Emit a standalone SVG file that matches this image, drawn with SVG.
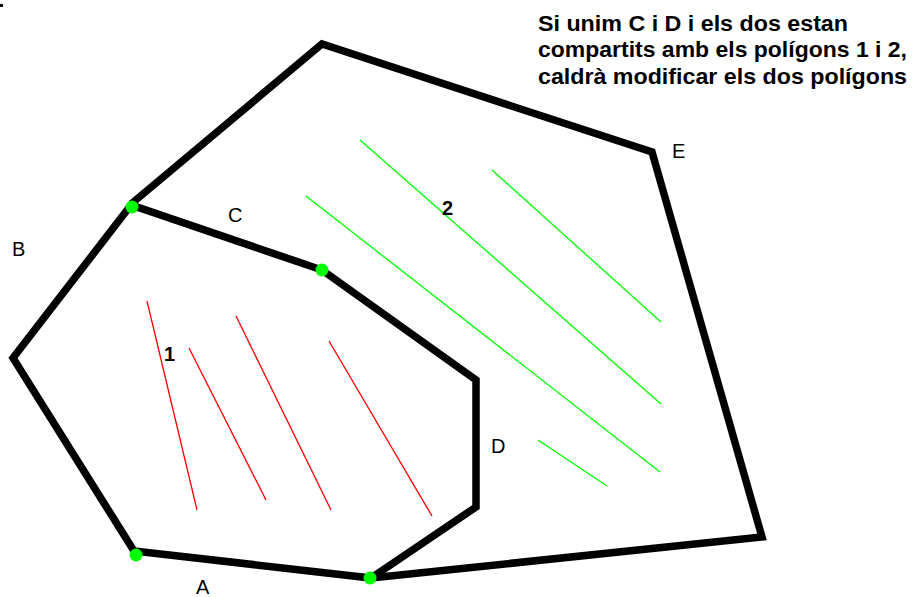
<svg xmlns="http://www.w3.org/2000/svg" width="912" height="597" viewBox="0 0 912 597">
<style>
.edge{fill:none;stroke:#000;stroke-width:7.5;stroke-linejoin:miter;stroke-linecap:butt}
.red{stroke:#ff0000;stroke-width:1.3;fill:none}
.grn{stroke:#00ff00;stroke-width:1.3;fill:none}
.dot{fill:#00ff00}
.lbl{font-family:"Liberation Sans",Arial,sans-serif;font-size:20px;fill:#000}
.num{font-family:"Liberation Sans",Arial,sans-serif;font-size:20px;font-weight:bold;fill:#000}
.note{font-family:"Liberation Sans",Arial,sans-serif;font-size:22px;font-weight:bold;fill:#000}
</style>
<rect x="0" y="4" width="3" height="3" fill="#000"/>
<g id="hatch1">
<line class="red" x1="147" y1="301" x2="197" y2="510"/>
<line class="red" x1="189" y1="348" x2="266" y2="500"/>
<line class="red" x1="236" y1="316" x2="331" y2="510"/>
<line class="red" x1="329" y1="341" x2="432" y2="516"/>
</g>
<g id="hatch2">
<line class="grn" x1="360" y1="140" x2="661" y2="404"/>
<line class="grn" x1="492" y1="170" x2="661" y2="322"/>
<line class="grn" x1="306" y1="196" x2="660" y2="472"/>
<line class="grn" x1="538" y1="440" x2="607" y2="486"/>
</g>
<g id="connectors">
<polyline class="edge" points="131,204 322,44 652,152 762,537 371,578"/>
</g>
<g id="polygon1">
<polygon class="edge" points="131,205 13,358 134,551 371,578 476,507 476,380 322,270"/>
</g>
<g id="vertices">
<circle class="dot" cx="132" cy="207" r="6.5"/>
<circle class="dot" cx="322" cy="270" r="6.5"/>
<circle class="dot" cx="136" cy="555" r="6.5"/>
<circle class="dot" cx="370" cy="578" r="6.5"/>
</g>
<g id="labels">
<text class="lbl" x="12" y="256">B</text>
<text class="lbl" x="228" y="222">C</text>
<text class="lbl" x="672" y="158">E</text>
<text class="lbl" x="491" y="453">D</text>
<text class="lbl" x="196" y="594">A</text>
<text class="num" x="164" y="361">1</text>
<text class="num" x="442" y="215">2</text>
</g>
<g id="note">
<text class="note" x="538" y="31" textLength="310" lengthAdjust="spacingAndGlyphs">Si unim C i D i els dos estan</text>
<text class="note" x="538" y="57" textLength="369" lengthAdjust="spacingAndGlyphs">compartits amb els polígons 1 i 2,</text>
<text class="note" x="538" y="84" textLength="369" lengthAdjust="spacingAndGlyphs">caldrà modificar els dos polígons</text>
</g>
</svg>
